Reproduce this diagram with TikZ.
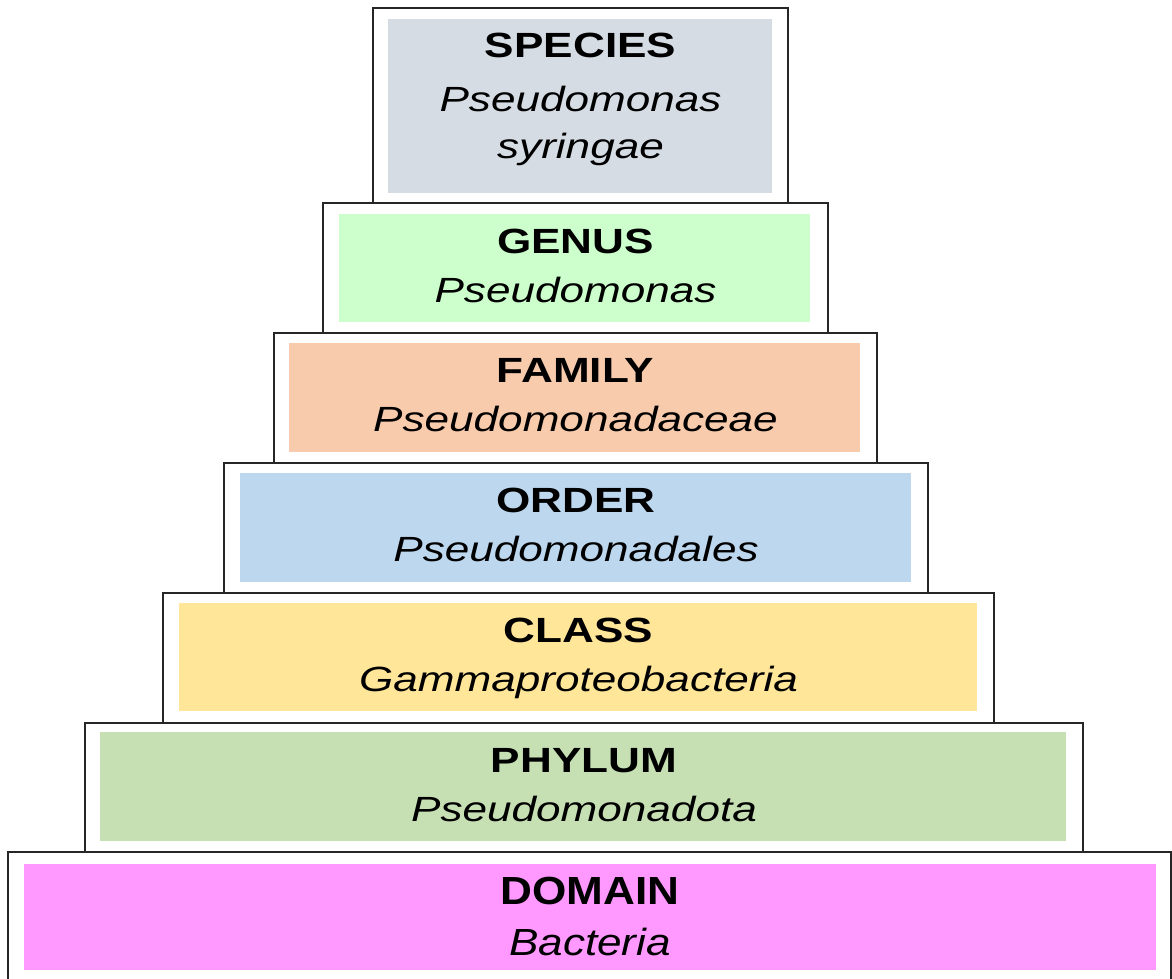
\documentclass[tikz,border=0pt]{standalone}
\usepackage{fontspec}
\setmainfont{Liberation Sans}[FakeStretch=1.26]
\begin{document}
\begin{tikzpicture}[x=1pt,y=-1pt,
  frame/.style={draw=black!85,line width=2pt,fill=white},
  rankname/.style={font=\fontsize{35}{41}\selectfont\bfseries,anchor=base,inner sep=0pt},
  taxon/.style={font=\fontsize{35}{41}\selectfont\itshape,anchor=base,inner sep=0pt}]
\definecolor{speciesC}{HTML}{D6DCE4}
\definecolor{genusC}{HTML}{CCFFCC}
\definecolor{familyC}{HTML}{F8CBAD}
\definecolor{orderC}{HTML}{BDD7EE}
\definecolor{classC}{HTML}{FFE699}
\definecolor{phylumC}{HTML}{C6E0B4}
\definecolor{domainC}{HTML}{FF99FF}
\useasboundingbox (0,0) rectangle (1172,978);
\clip (0,0) rectangle (1172,978);

% outer frames, top to bottom
\draw[frame] (373,8) rectangle (788,203);
\draw[frame] (323,203) rectangle (828,333);
\draw[frame] (274,333) rectangle (877,463);
\draw[frame] (224,463) rectangle (928,593);
\draw[frame] (163,593) rectangle (994,723);
\draw[frame] (85,723) rectangle (1083,852);
\draw[frame] (8,852) rectangle (1171,992);

% coloured panels inside the frames
\fill[speciesC] (388,19) rectangle (772,193);
\fill[genusC]   (339,214) rectangle (810,322);
\fill[familyC]  (289,343) rectangle (860,452);
\fill[orderC]   (240,473) rectangle (911,582);
\fill[classC]   (179,603) rectangle (977,711);
\fill[phylumC]  (100,732) rectangle (1066,841);
\fill[domainC]  (24,864) rectangle (1156,970);

% labels
\node[rankname] (species) at (580.5,57.5) {SPECIES};
\node[taxon] (speciesA) at (580.5,111) {Pseudomonas};
\node[taxon] (speciesB) at (580.5,158) {syringae};

\node[rankname] (genus) at (575.5,253) {GENUS};
\node[taxon] (genusN) at (575.5,302) {Pseudomonas};

\node[rankname] (family) at (575.5,382.5) {FAMILY};
\node[taxon] (familyN) at (575.5,431.5) {Pseudomonadaceae};

\node[rankname] (order) at (576,512) {ORDER};
\node[taxon] (orderN) at (576,561) {Pseudomonadales};

\node[rankname] (class) at (578.5,642.5) {CLASS};
\node[taxon] (classN) at (578.5,691.5) {Gammaproteobacteria};

\node[rankname] (phylum) at (584,772) {PHYLUM};
\node[taxon] (phylumN) at (584,821) {Pseudomonadota};

\node[rankname,yscale=1.12,transform shape] (domain) at (590,904.5) {DOMAIN};
\node[taxon,yscale=1.08,transform shape] (domainN) at (590,955) {Bacteria};
\end{tikzpicture}
\end{document}
